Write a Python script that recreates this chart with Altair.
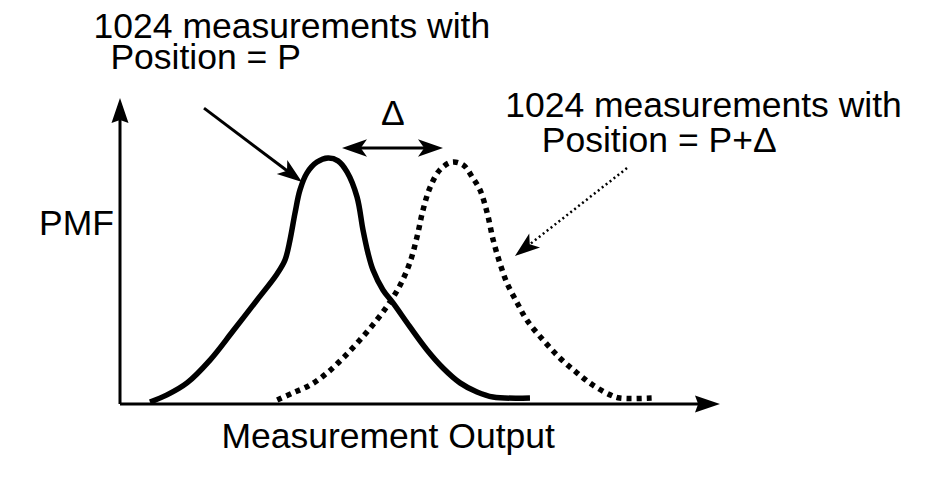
import math
import altair as alt
import pandas as pd

# ---------------- data (x: measurement output units, y: PMF units) ----------------
solid_x = [5.00, 7.83, 11.17, 15.00, 18.83, 22.83, 26.17, 27.50, 28.33, 29.17, 30.00, 31.17,
           32.83, 34.67, 36.33, 37.83, 39.50, 40.50, 41.33, 42.17, 43.83, 45.50, 48.33, 51.17,
           53.83, 56.67, 59.50, 62.17, 68.33]
solid_pmf = [0.008, 0.038, 0.088, 0.183, 0.304, 0.433, 0.542, 0.600, 0.683, 0.796, 0.892, 0.963,
             1.008, 1.025, 1.013, 0.967, 0.863, 0.725, 0.629, 0.558, 0.475, 0.421, 0.321, 0.225,
             0.150, 0.088, 0.050, 0.029, 0.025]

dotted_x = [26.2, 28.8, 31.7, 34.5, 37.2, 40.0, 42.8, 45.0, 46.7, 48.3, 49.5, 50.5, 51.7, 53.3,
            55.3, 57.2, 58.8, 60.0, 61.2, 62.2, 63.3, 64.5, 66.2, 67.8, 70.5, 73.3, 76.2, 78.8,
            81.7, 83.3, 88.8]
dotted_pmf = [0.017, 0.046, 0.079, 0.129, 0.192, 0.267, 0.350, 0.425, 0.496, 0.588, 0.696, 0.808,
              0.904, 0.975, 1.008, 0.996, 0.942, 0.892, 0.796, 0.683, 0.588, 0.504, 0.421, 0.350,
              0.267, 0.192, 0.129, 0.079, 0.038, 0.025, 0.025]

# axes (origin at 0,0; arrow tips)
axis_x_tip = 100.0
axis_y_tip = 1.275

# annotation arrows: (x_from, y_from, x_to, y_to)
arrow_p = (14.0, 1.233, 30.33, 0.925)          # solid arrow to "Position = P" curve
arrow_pd = (84.5, 0.983, 65.83, 0.617)         # dotted arrow to "Position = P+Δ" curve
delta_left = (37.0, 1.0667)
delta_right = (53.83, 1.0667)

# texts
text_labels = ["1024 measurements with", "Position = P", "1024 measurements with",
               "Position = P+\u0394", "\u0394", "PMF", "Measurement Output"]
text_x = [-4.4, -1.6, 64.2, 70.3, 43.5, -13.5, 16.9]
text_y = [1.527, 1.396, 1.196, 1.05, 1.1625, 0.704, -0.183]

# ---------------- layout ----------------
W, H = 929, 465
PX_X, PX_Y = 6.0, 240.0        # pixels per data unit
X0_PX, Y0_PX = 112.0, 396.0    # where the origin sits inside the plot area
x_dom = [-X0_PX / PX_X, (W - X0_PX) / PX_X]
y_dom = [-(H - Y0_PX) / PX_Y, Y0_PX / PX_Y]
xs = alt.Scale(domain=x_dom, nice=False, zero=False)
ys = alt.Scale(domain=y_dom, nice=False, zero=False)


def ang(x1, y1, x2, y2):
    dx = (x2 - x1) * PX_X
    dy = -(y2 - y1) * PX_Y
    return math.degrees(math.atan2(dy, dx)) % 360


def pull(x1, y1, x2, y2, px):
    dx = (x2 - x1) * PX_X
    dy = (y2 - y1) * PX_Y
    L = math.hypot(dx, dy)
    return x2 - dx / L * px / PX_X, y2 - dy / L * px / PX_Y


curves = pd.DataFrame({"x": solid_x, "y": solid_pmf})
curves2 = pd.DataFrame({"x": dotted_x, "y": dotted_pmf})

# axis lines
ax_rows = []
ex, ey = pull(0, 0, axis_x_tip, 0, 16)
ax_rows.append({"x": 0, "y": 0, "x2": ex, "y2": ey})
ex, ey = pull(0, 0, 0, axis_y_tip, 16)
ax_rows.append({"x": 0, "y": 0, "x2": ex, "y2": ey})
axes_df = pd.DataFrame(ax_rows)
axis_heads = pd.DataFrame({
    "x": [axis_x_tip, 0], "y": [0, axis_y_tip],
    "angle": [ang(0, 0, axis_x_tip, 0), ang(0, 0, 0, axis_y_tip)],
})

# solid annotation lines
sol_rows = []
ex, ey = pull(*arrow_p, 14)
sol_rows.append({"x": arrow_p[0], "y": arrow_p[1], "x2": ex, "y2": ey})
lx, ly = pull(delta_right[0], delta_right[1], delta_left[0], delta_left[1], 14)
rx, ry = pull(delta_left[0], delta_left[1], delta_right[0], delta_right[1], 14)
sol_rows.append({"x": lx, "y": ly, "x2": rx, "y2": ry})
sol_df = pd.DataFrame(sol_rows)

ex, ey = pull(*arrow_pd, 14)
dot_df = pd.DataFrame([{"x": arrow_pd[0], "y": arrow_pd[1], "x2": ex, "y2": ey}])

heads = pd.DataFrame({
    "x": [arrow_p[2], arrow_pd[2], delta_left[0], delta_right[0]],
    "y": [arrow_p[3], arrow_pd[3], delta_left[1], delta_right[1]],
    "angle": [ang(*arrow_p), ang(*arrow_pd),
              ang(delta_right[0], delta_right[1], delta_left[0], delta_left[1]),
              ang(delta_left[0], delta_left[1], delta_right[0], delta_right[1])],
})

texts = pd.DataFrame({"label": text_labels, "x": text_x, "y": text_y})

X = lambda f="x": alt.X(f"{f}:Q", scale=xs, axis=None)
Y = lambda f="y": alt.Y(f"{f}:Q", scale=ys, axis=None)

axes_layer = alt.Chart(axes_df).mark_rule(color="black", strokeWidth=3).encode(
    x=X(), y=Y(), x2="x2:Q", y2="y2:Q")

AXIS_HEAD = "M0,0 L-2,-0.68 L-1.75,0 L-2,0.68 Z"
ARROW_HEAD = "M0,0 L-2,-0.7 L-1.5,0 L-2,0.7 Z"

axis_head_layer = alt.Chart(axis_heads).mark_point(
    shape=AXIS_HEAD, filled=True, size=625, color="black", opacity=1, strokeWidth=0
).encode(x=X(), y=Y(), angle=alt.Angle("angle:Q", scale=None))

solid_layer = alt.Chart(curves).mark_line(
    color="black", strokeWidth=5.5, interpolate="catmull-rom", strokeCap="butt"
).encode(x=X(), y=Y(), order="x:Q")

dotted_layer = alt.Chart(curves2).mark_line(
    color="black", strokeWidth=5.5, interpolate="catmull-rom", strokeDash=[5, 5], strokeCap="butt"
).encode(x=X(), y=Y(), order="x:Q")

sol_ann = alt.Chart(sol_df).mark_rule(color="black", strokeWidth=3).encode(
    x=X(), y=Y(), x2="x2:Q", y2="y2:Q")

dot_ann = alt.Chart(dot_df).mark_rule(
    color="black", strokeWidth=2.5, strokeDash=[2, 3]).encode(
    x=X(), y=Y(), x2="x2:Q", y2="y2:Q")

head_layer = alt.Chart(heads).mark_point(
    shape=ARROW_HEAD, filled=True, size=625, color="black", opacity=1, strokeWidth=0
).encode(x=X(), y=Y(), angle=alt.Angle("angle:Q", scale=None))

text_layer = alt.Chart(texts).mark_text(
    align="left", baseline="alphabetic", fontSize=35.5, color="black",
    font="Liberation Sans, Arial, Helvetica, sans-serif"
).encode(x=X(), y=Y(), text="label:N")

chart = alt.layer(
    axes_layer, solid_layer, dotted_layer, sol_ann, dot_ann,
    axis_head_layer, head_layer, text_layer
).properties(
    width=W, height=H, padding=0, autosize=alt.AutoSizeParams(type="none"),
    background="white"
).configure_view(stroke=None)

chart.save("out.html", embed_options={"renderer": "svg", "actions": False})
